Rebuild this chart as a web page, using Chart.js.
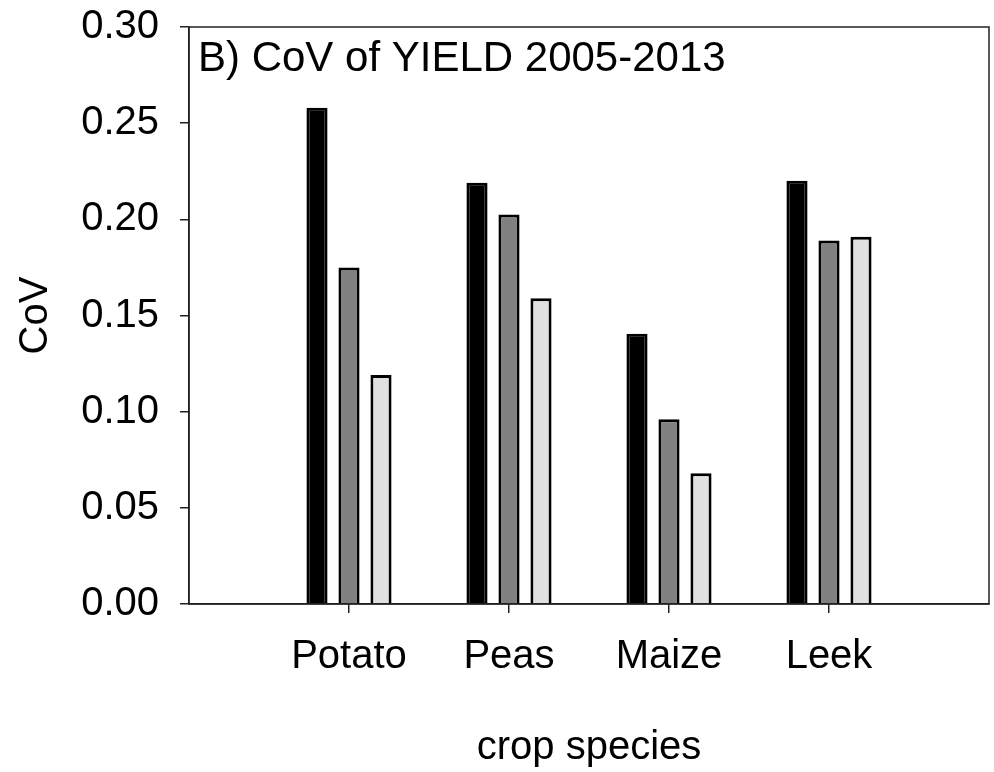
<!DOCTYPE html>
<html>
<head>
<meta charset="utf-8">
<script src="https://cdn.jsdelivr.net/npm/chart.js@4.4.1/dist/chart.umd.min.js"></script>
<style>
html,body{margin:0;padding:0;background:#fff;}
#wrap{width:994px;height:772px;}
</style>
</head>
<body>
<div id="wrap"><canvas id="c" width="994" height="772"></canvas></div>
<script>
const categories = ['Potato', 'Peas', 'Maize', 'Leek'];
const seriesBlack = [0.258, 0.219, 0.1405, 0.220];
const seriesGrey  = [0.175, 0.2025, 0.096, 0.189];
const seriesLight = [0.119, 0.159, 0.068, 0.191];
const yTicks = [0.00, 0.05, 0.10, 0.15, 0.20, 0.25, 0.30];
const titleText = 'B) CoV of YIELD 2005-2013';

const FONT = '"Liberation Sans", Arial, sans-serif';

function toPoints(arr){ return arr.map((v,i)=>({x:i+1, y:v})); }

const framePlugin = {
  id: 'frame',
  afterDraw(chart){
    const a = chart.chartArea, ctx = chart.ctx;
    ctx.save();
    ctx.strokeStyle = '#222';
    ctx.lineWidth = 1.5;
    ctx.strokeRect(a.left, a.top, a.right - a.left, a.bottom - a.top);
    ctx.fillStyle = '#000';
    ctx.font = '42px ' + FONT;
    ctx.textBaseline = 'alphabetic';
    ctx.textAlign = 'left';
    ctx.fillText(titleText, a.left + 9, a.top + 44);
    ctx.restore();
  }
};

new Chart(document.getElementById('c'), {
  type: 'bar',
  data: {
    datasets: [
      {data: toPoints(seriesBlack), backgroundColor: '#000000', borderColor: '#000000', borderWidth: 3},
      {data: toPoints(seriesGrey),  backgroundColor: '#808080', borderColor: '#000000', borderWidth: 3},
      {data: toPoints(seriesLight), backgroundColor: '#e0e0e0', borderColor: '#000000', borderWidth: 3}
    ]
  },
  options: {
    responsive: false,
    animation: false,
    devicePixelRatio: 1,
    categoryPercentage: 0.6,
    barPercentage: 0.66,
    layout: {padding: {top: 27, right: 5, left: 0, bottom: 0}},
    plugins: {legend: {display: false}, tooltip: {enabled: false}},
    scales: {
      x: {
        type: 'linear',
        min: 0, max: 5,
        offset: false,
        afterBuildTicks(scale){ scale.ticks = categories.map((c,i)=>({value: i+1})); },
        afterFit(scale){ scale.height = 168; scale.paddingLeft = 0; scale.paddingRight = 0; },
        ticks: {
          autoSkip: false,
          maxRotation: 0,
          padding: 20,
          color: '#000',
          font: {family: FONT, size: 40},
          callback(v){ return categories[Math.round(v) - 1] || ''; }
        },
        grid: {display: true, offset: false, drawOnChartArea: false, drawTicks: true, tickLength: 9, color: '#222', lineWidth: 1.5},
        border: {display: true, color: '#222', width: 1.5},
        title: {display: true, text: 'crop species', color: '#000', font: {family: FONT, size: 40}, padding: {top: 0, bottom: 0}}
      },
      y: {
        min: 0, max: 0.3,
        afterBuildTicks(scale){ scale.ticks = yTicks.map(v=>({value: v})); },
        afterFit(scale){ scale.width = 189; scale.paddingTop = 0; scale.paddingBottom = 0; },
        ticks: {
          padding: 21,
          color: '#000',
          font: {family: FONT, size: 40},
          callback(v){ return Number(v).toFixed(2); }
        },
        grid: {display: true, drawOnChartArea: false, drawTicks: true, tickLength: 9, color: '#222', lineWidth: 1.5},
        border: {display: true, color: '#222', width: 1.5},
        title: {display: true, text: 'CoV', color: '#000', font: {family: FONT, size: 40}, padding: {top: 12, bottom: 0}}
      }
    }
  },
  plugins: [framePlugin]
});
</script>
</body>
</html>
